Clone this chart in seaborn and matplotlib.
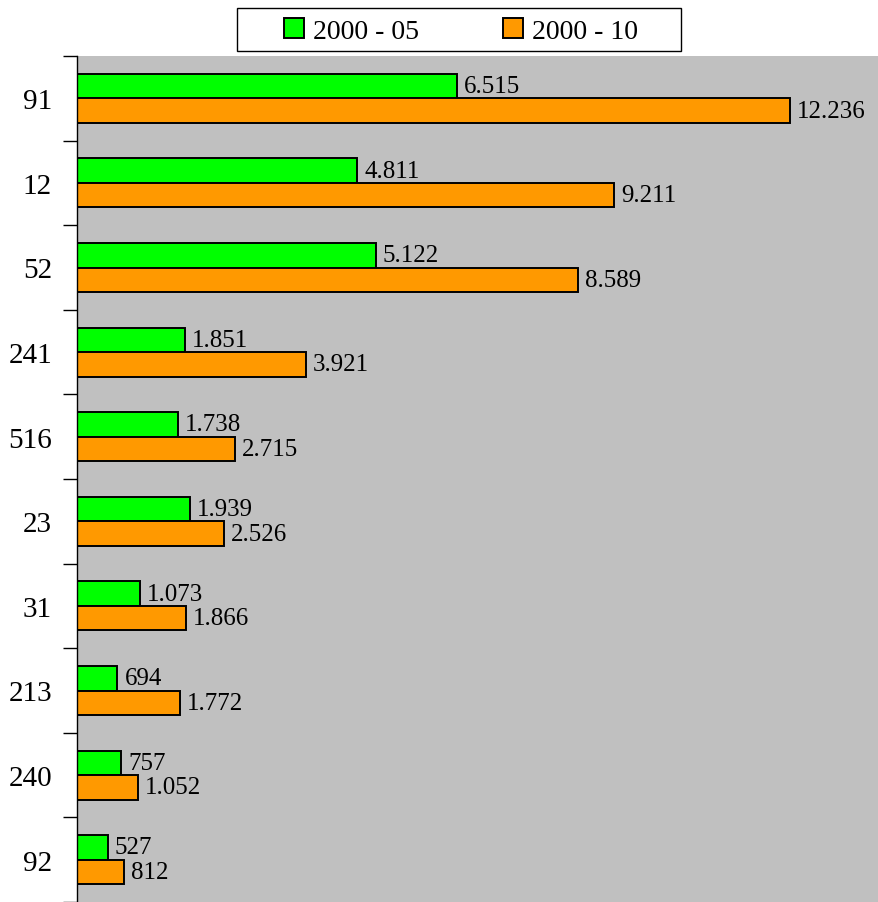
"""Horizontal grouped bars, 2000-05 vs 2000-10"""

import seaborn as sns
import pandas as pd
import matplotlib.pyplot as plt
from matplotlib.patches import Rectangle
from matplotlib.ticker import FixedLocator, NullLocator

CATEGORIES = ["91", "12", "52", "241", "516", "23", "31", "213", "240", "92"]
VALS_05 = [6515, 4811, 5122, 1851, 1738, 1939, 1073, 694, 757, 527]
VALS_10 = [12236, 9211, 8589, 3921, 2715, 2526, 1866, 1772, 1052, 812]
SERIES = ["2000 - 05", "2000 - 10"]
PL = ["#00ff00", "#ff9900"]

sns.set_style("white")
plt.rcParams['font.family'] = ['Liberation Serif', 'DejaVu Serif']
plt.rcParams['text.color'] = 'black'
plt.rcParams['ytick.color'] = 'black'
plt.rcParams['ytick.labelcolor'] = 'black'

df = pd.DataFrame({
    "cat": CATEGORIES * 2,
    "value": VALS_05 + VALS_10,
    "series": [SERIES[0]] * len(CATEGORIES) + [SERIES[1]] * len(CATEGORIES),
})

W, H = 879, 903
fig = plt.figure(figsize=(W / 100, H / 100), dpi=100)
ax = fig.add_axes([77 / W, 0, 802 / W, 846 / H])

sns.barplot(data=df, x="value", y="cat", hue="series", orient="h",
            palette=PL, width=0.58, edgecolor="black", linewidth=1.4,
            saturation=1, ax=ax, order=CATEGORIES, hue_order=SERIES)

ax.set_facecolor("#c0c0c0")
ax.set_xlim(0, 13760)
ax.set_ylim(len(CATEGORIES) - 0.5, -0.5)
ax.set_xlabel("")
ax.set_ylabel("")
ax.xaxis.set_major_locator(NullLocator())

# labels on bars with dot thousands separator
for cont, vals in zip(ax.containers, [VALS_05, VALS_10]):
    labs = [f"{v:,}".replace(",", ".") for v in vals]
    ax.bar_label(cont, labels=labs, padding=5, fontsize=18, color="black")

# ticks between categories, labels centred
ax.yaxis.set_major_locator(FixedLocator(range(len(CATEGORIES))))
ax.yaxis.set_minor_locator(FixedLocator([i - 0.5 for i in range(len(CATEGORIES) + 1)]))
ax.tick_params(axis="y", which="major", length=0, labelsize=21, pad=18)
ax.tick_params(axis="y", which="minor", length=10, width=1, color="black",
               direction="out", left=True)
ax.set_yticklabels(CATEGORIES)

for s in ["top", "right", "bottom"]:
    ax.spines[s].set_visible(False)
ax.spines["left"].set_color("black")
ax.spines["left"].set_linewidth(1)

ax.get_legend().remove()
handles, labels = ax.get_legend_handles_labels()
leg = fig.legend(handles=handles, labels=labels, ncol=2, loc="center",
                 bbox_to_anchor=(461 / W, 1 - 32 / H), fontsize=20,
                 frameon=False, handlelength=0.72, handleheight=0.72,
                 handletextpad=0.3, columnspacing=3.05, borderpad=0.2,
                 borderaxespad=0)
# legend box, wider than matplotlib's padding allows
fig.patches.append(Rectangle((237 / W, 1 - 52 / H), 444 / W, 43 / H,
                             transform=fig.transFigure, facecolor="white",
                             edgecolor="black", linewidth=1, zorder=0))

plt.savefig("out.png", dpi=100)
plt.close()
